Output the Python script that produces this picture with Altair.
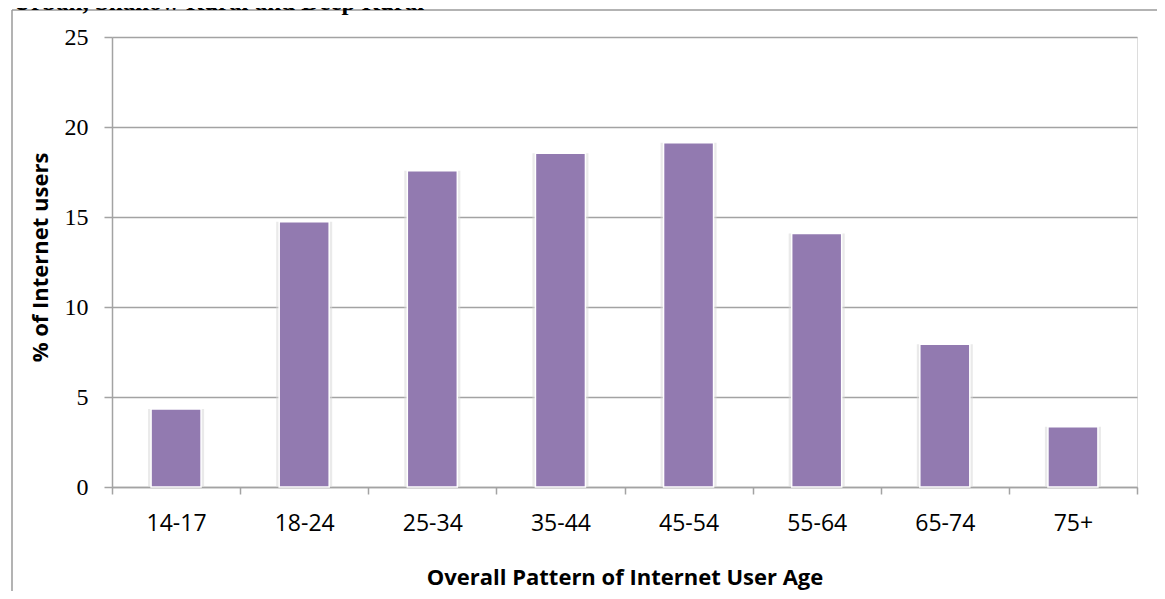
import altair as alt
import pandas as pd

# Data
age_groups = ["14-17", "18-24", "25-34", "35-44", "45-54", "55-64", "65-74", "75+"]
pct_users = [4.33, 14.74, 17.57, 18.54, 19.13, 14.09, 7.93, 3.35]
y_ticks = [0, 5, 10, 15, 20, 25]
title_text = ["Urban, Shallow Rural and Deep Rural"]

df = pd.DataFrame({"age": age_groups, "pct": pct_users})
title_df = pd.DataFrame({"t": title_text})
one = pd.DataFrame({"k": [0]})

GRID = "#a3a3a3"
BAR = "#927ab0"

x_enc = alt.X(
    "age:N",
    sort=age_groups,
    scale=alt.Scale(paddingInner=0, paddingOuter=0),
    axis=alt.Axis(
        title="Overall Pattern of Internet User Age",
        labelAngle=0,
        labelFont="Open Sans",
        labelFontSize=23,
        labelColor="black",
        labelPadding=18,
        tickBand="extent",
        tickSize=7,
        tickColor=GRID,
        tickWidth=1.5,
        domainColor=GRID,
        domainWidth=1.5,
        grid=False,
        titleFont="Open Sans",
        titleFontSize=22,
        titleFontWeight="bold",
        titleColor="black",
        titleY=90,
        titleBaseline="middle",
    ),
)

y_enc = alt.Y(
    "pct:Q",
    scale=alt.Scale(domain=[0, 25], nice=False),
    axis=alt.Axis(
        title="% of Internet users",
        values=y_ticks,
        grid=True,
        gridColor=GRID,
        gridWidth=1.5,
        tickSize=8,
        tickColor=GRID,
        tickWidth=1.5,
        domainColor=GRID,
        domainWidth=1.5,
        labelFont="Liberation Serif",
        labelFontSize=24,
        labelColor="black",
        labelPadding=16,
        titleFont="Open Sans",
        titleFontSize=22,
        titleFontWeight="bold",
        titleColor="black",
        titleX=-72,
        titleY=220,
        titleAngle=-90,
        titleBaseline="middle",
        titleAlign="center",
    ),
)

shadow = alt.Chart(df).mark_bar(size=56, color="#d9d9d9", opacity=0.55).encode(
    x=x_enc, y=y_enc
)

bars = alt.Chart(df).mark_bar(
    size=50, color=BAR, stroke="white", strokeWidth=1.5
).encode(x=x_enc, y=y_enc)

frame_left = alt.Chart(one).mark_rule(color="#9a9a9a", strokeWidth=1.5).encode(
    x=alt.value(-100), y=alt.value(-27), y2=alt.value(600)
)
frame_top = alt.Chart(one).mark_rule(color="#9a9a9a", strokeWidth=1.5).encode(
    x=alt.value(-100), x2=alt.value(1060), y=alt.value(-27)
)

title_mark = alt.Chart(title_df).mark_text(
    font="Liberation Serif", fontSize=25, fontWeight="bold", color="black",
    align="left", baseline="alphabetic"
).encode(x=alt.value(-99), y=alt.value(-27), text="t:N")

chart = alt.layer(shadow, bars, frame_left, frame_top, title_mark).properties(
    width=1025,
    height=450,
    autosize=alt.AutoSizeParams(type="none"),
    padding={"left": 104, "top": 29, "right": 20, "bottom": 104},
).configure_view(stroke=None).configure(background="white")

chart.save("out.html", embed_options={"renderer": "svg", "actions": False})
